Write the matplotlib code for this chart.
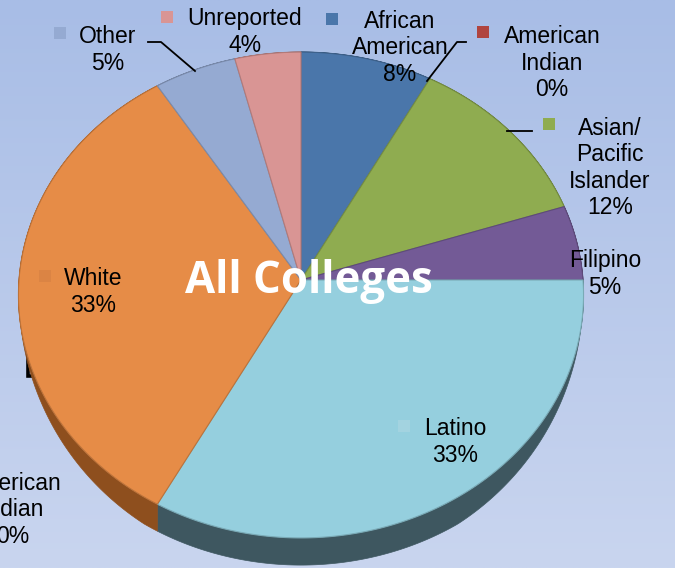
import numpy as np
import matplotlib
matplotlib.use('Agg')
import matplotlib.pyplot as plt
from matplotlib.patches import Polygon, Rectangle
from matplotlib.colors import to_rgb

# ---------------- data ----------------
categories = ['African American', 'American Indian', 'Asian/Pacific Islander',
              'Filipino', 'Latino', 'White', 'Other', 'Unreported']
label_names = ['African\nAmerican', 'American\nIndian', 'Asian/\nPacific\nIslander',
               'Filipino', 'Latino', 'White', 'Other', 'Unreported']
percent = [8, 0, 12, 5, 33, 33, 5, 4]
colors = ['#4a76aa', '#b0443f', '#8fac50', '#735a96', '#95cfde', '#e68c47',
          '#95aad2', '#d99594']
side_colors = ['#2c4766', '#6a2926', '#566730', '#45365a', '#3e5760', '#8e4f1e',
               '#596680', '#825958']
title = 'All Colleges'

# ---------------- layout ----------------
W, H = 675, 568
fig = plt.figure(figsize=(W / 100, H / 100), dpi=100)
ax = fig.add_axes([0, 0, 1, 1])
ax.set_xlim(0, W)
ax.set_ylim(H, 0)
ax.axis('off')

# background gradient
top = np.array(to_rgb('#a8bde6'))
bot = np.array(to_rgb('#c9d5ef'))
t = np.linspace(0, 1, 200)[:, None]
grad = (top * (1 - t) + bot * t)[:, None, :].repeat(2, axis=1)
ax.imshow(grad, extent=[0, W, H, 0], aspect='auto', zorder=0, interpolation='bilinear')

# pie geometry (perspective tilted disc)
cx, cy = 301, 280
R, B, k, T = 282, 242, 0.0617, 25.5


def proj(theta, depth=0.0):
    u, v = np.cos(theta), np.sin(theta)
    s = 1.0 / (1.0 + k * v)
    taper = np.clip((-v - 0.2) / 0.65, 0, 1) ** 0.8
    x = cx + R * u * s
    y = cy - B * v * s + depth * T * s * taper
    return x, y


def darker(c, f):
    return tuple(np.array(to_rgb(c)) * f)


total = float(sum(percent))
start = np.pi / 2
angles = []
a = start
for p in percent:
    a2 = a - 2 * np.pi * p / total
    angles.append((a, a2))
    a = a2

# partial background elements (from neighbouring chart)
ax.add_patch(Rectangle((28, 330), 60, 46, fill=False, edgecolor='black', lw=2.6, zorder=1))
ax.text(13, 510, 'American\nIndian\n0%', ha='center', va='center', fontsize=16.5,
        family='Liberation Sans', linespacing=1.18, zorder=1)

# sides
for (a1, a2), sc in zip(angles, side_colors):
    if a1 == a2:
        continue
    th = np.linspace(a1, a2, 200)
    xt, yt = proj(th, 0)
    xb, yb = proj(th, 1)
    ax.add_patch(Polygon(np.column_stack([np.r_[xt, xb[::-1]], np.r_[yt, yb[::-1]]]),
                         closed=True, facecolor=sc, edgecolor=sc, lw=0.5, zorder=2))

# tops
for (a1, a2), c in zip(angles, colors):
    if a1 == a2:
        continue
    th = np.linspace(a1, a2, 300)
    xt, yt = proj(th, 0)
    ax.add_patch(Polygon(np.column_stack([np.r_[cx, xt], np.r_[cy, yt]]), closed=True,
                         facecolor=c, edgecolor=darker(c, 0.82), lw=0.8, zorder=3))

# labels: text centre (x, y), marker centre (x, y) or None
label_pos = [(400, 48), (552, 63), (610, 168), (605, 274), (455, 442), (93, 292),
             (108, 50), (245, 32)]
marker_pos = [(332, 19), (483, 32), (549, 124), None, (404, 426), (45, 276),
              (60, 33), (167, 17)]
marker_cols = ['#4a76aa', '#b0443f', '#8fac50', '#735a96', '#a3d3e0', '#db8444',
               '#95aad2', '#d99594']
for name, p, (tx, ty), mp, mc in zip(label_names, percent, label_pos, marker_pos, marker_cols):
    ax.text(tx, ty, f'{name}\n{p}%', ha='center', va='center', multialignment='center',
            fontsize=16.5, family='Liberation Sans', linespacing=1.18, color='black', zorder=6)
    if mp is not None:
        ax.add_patch(Rectangle((mp[0] - 6, mp[1] - 6), 12, 12, facecolor=mc,
                               edgecolor='none', zorder=6))

# leader lines
ax.plot([148, 161, 195], [42, 42, 71], color='black', lw=1.3, zorder=5)
ax.plot([427, 457, 466], [81, 42, 42], color='black', lw=1.3, zorder=5)
ax.plot([507, 532], [131, 131], color='black', lw=1.3, zorder=5)

# title
ax.text(309, 282, title, ha='center', va='center', fontsize=31.5, fontweight='bold',
        family='Open Sans', color='white', zorder=7)

fig.savefig('out.png', dpi=100)
